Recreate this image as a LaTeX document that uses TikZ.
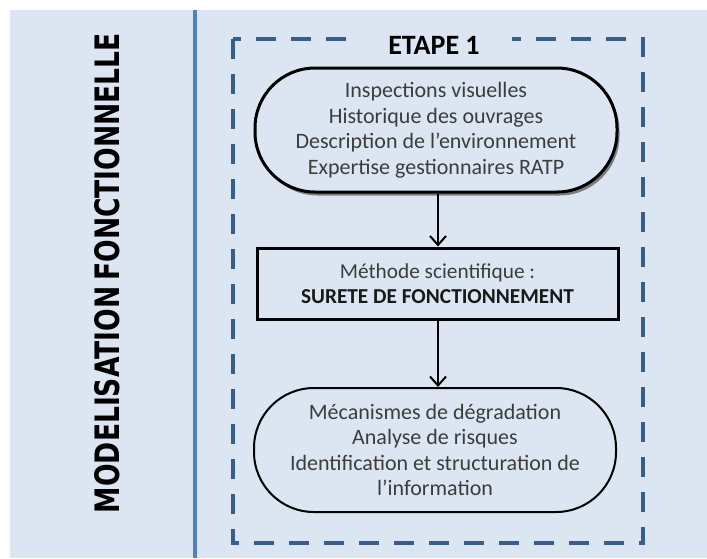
\documentclass[tikz,border=0pt]{standalone}
\usepackage{fontspec}
\setmainfont{Carlito}
\newfontfamily\titlefont{DejaVu Sans}
\usetikzlibrary{arrows.meta,shadows}
\definecolor{bgblue}{HTML}{DCE6F2}
\definecolor{sepblue}{HTML}{4F81BD}
\definecolor{dashblue}{HTML}{385D8A}
\definecolor{txtgray}{HTML}{3C3C3C}
\tikzset{
  txt/.style={text=txtgray, align=center, font=\fontsize{22}{25.5}\selectfont, inner sep=0pt},
  ovalbox/.style={draw=black, fill=bgblue, rectangle, rounded corners=60pt, minimum width=362pt, minimum height=124pt, txt},
  methodbox/.style={draw=black, line width=3pt, fill=bgblue, rectangle, minimum width=361pt, minimum height=71pt, txt, font=\fontsize{21.3}{25}\selectfont},
  flowarrow/.style={draw=black, line width=2pt, -{Straight Barb[length=9pt, width=16pt, line width=2pt]}},
}
\begin{document}
\begin{tikzpicture}[x=1pt,y=-1pt]
\useasboundingbox (0,0) rectangle (707,558);
\fill[bgblue] (10,10) rectangle (707,558);
\draw[sepblue, line width=4pt] (195,10) -- (195,558);
\node[rotate=90, inner sep=0pt] (title) at (107.5,273) {\resizebox{480pt}{25pt}{\titlefont\bfseries MODELISATION\hspace{0.22em}FONCTIONNELLE}};
\draw[dashblue, line width=4.5pt, dash pattern=on 20pt off 15pt] (233,39) rectangle (643,543);
\node[fill=bgblue, inner xsep=32pt, inner ysep=2pt, font=\fontsize{28}{30}\selectfont\bfseries, text=black] (etape) at (434,45) {ETAPE 1};
\node[ovalbox, line width=3pt, drop shadow={shadow xshift=2.5pt, shadow yshift=-3.5pt, opacity=0.45, fill=black}] (src) at (436,130) {Inspections visuelles\\Historique des ouvrages\\Description de l’environnement\\Expertise gestionnaires RATP};
\node[methodbox] (method) at (437.5,283.5) {Méthode scientifique :\\{\color{black!90}\bfseries SURETE DE FONCTIONNEMENT}};
\node[ovalbox, line width=2pt] (result) at (435,450) {Mécanismes de dégradation\\Analyse de risques\\Identification et structuration de\\l’information};
\draw[flowarrow] (src.south -| 438,0) -- (method.north -| 438,0);
\draw[flowarrow] (method.south -| 438,0) -- (result.north -| 438,0);
\end{tikzpicture}
\end{document}
